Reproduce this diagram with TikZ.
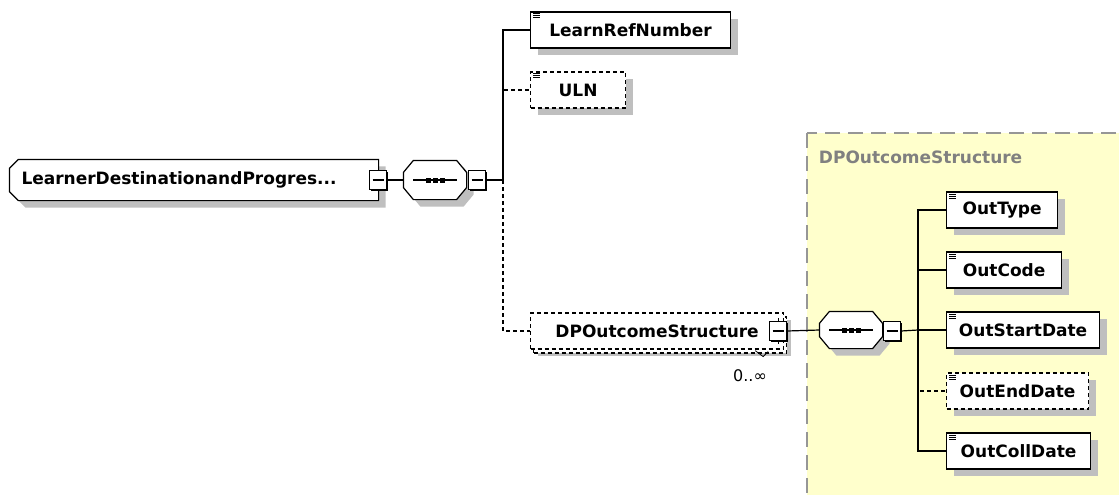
\documentclass[tikz,border=0pt]{standalone}
\usepackage{fontspec}
\setmainfont{DejaVu Sans}
\usetikzlibrary{shadows,positioning}
\definecolor{groupfill}{RGB}{255,255,204}
\definecolor{groupline}{RGB}{150,150,150}
\definecolor{grouptext}{RGB}{128,128,128}
\tikzset{
    boxfont/.style={font=\fontsize{17}{20}\selectfont\bfseries},
    grayshadow/.style={drop shadow={shadow xshift=7pt, shadow yshift=-7pt, fill=black!25, opacity=1}},
    elem/.style={draw, fill=white, anchor=west, minimum height=36, inner sep=0pt, boxfont, grayshadow},
    optional/.style={dash pattern=on 4pt off 3pt},
    toggle/.style={draw, fill=white, minimum width=17, minimum height=19, inner sep=0pt,
        drop shadow={shadow xshift=1.5pt, shadow yshift=-1.5pt, fill=black, opacity=1},
        path picture={\draw ([xshift=3pt]path picture bounding box.west) -- ([xshift=-3pt]path picture bounding box.east);}},
    seqbox/.style={minimum width=62, minimum height=38, inner sep=0pt},
    groupbox/.style={fill=groupfill, draw=groupline, dash pattern=on 15pt off 8pt}
}
\begin{document}
\begin{tikzpicture}[x=1pt, y=-1pt, line width=1.2pt]
        \useasboundingbox (0,0) rectangle (1119,495);
        % DPOutcomeStructure group
        \draw[groupbox] (807,133) rectangle (1130,505);
        \node[anchor=west, boxfont, text=grouptext] (grp) at (815,157) {DPOutcomeStructure};
        % root element and its sequence
        \node[minimum width=368, minimum height=40, inner sep=0pt] (root) at (194,180) {};
        \draw[fill=white, grayshadow] ([xshift=9pt]root.north west) -- (root.north east) -- (root.south east)
            -- ([xshift=9pt]root.south west) -- ([yshift=9pt]root.south west) -- ([yshift=-9pt]root.north west) -- cycle;
        \node[boxfont, text width=345pt, align=left] (rootname) at (root) {LearnerDestinationandProgres...};
        \node[toggle] (t1) at (378,180) {};
        \node[seqbox] (seq1) at (435,180) {};
        \node[seqbox, minimum height=36] (seq2) at (851,330) {};
        \foreach \s in {seq1,seq2} {
            \draw[fill=white, grayshadow] ([xshift=10pt]\s.north west) -- ([xshift=-10pt]\s.north east)
                -- ([yshift=-12pt]\s.north east) -- ([yshift=12pt]\s.south east) -- ([xshift=-10pt]\s.south east)
                -- ([xshift=10pt]\s.south west) -- ([yshift=12pt]\s.south west) -- ([yshift=-12pt]\s.north west) -- cycle;
            \draw ([xshift=-22pt]\s.center) -- ([xshift=22pt]\s.center);
            \foreach \d in {-7,0,7}
                \fill ([xshift=\d pt]\s.center) ++(-2.5pt,-2.5pt) rectangle ++(5pt,5pt);
        }
        \node[toggle] (t2) at (477,180) {};
        \draw (t1.east) -- (seq1.west);
        % children
        \node[elem, minimum width=200] (lrn) at (530,30) {LearnRefNumber};
        \node[elem, optional, minimum width=95] (uln) at (530,90) {ULN};
        \node[elem, optional, minimum width=253, copy shadow={shadow xshift=3pt, shadow yshift=-4pt}] (dp) at (530,331) {DPOutcomeStructure};
        \node[font=\fontsize{16}{18}\selectfont] (occ) at (750,376) {0..∞};
        \draw[line width=0.8pt] ([xshift=-29pt,yshift=-1pt]dp.south east) -- ++(8pt,-6pt) -- ++(5pt,5pt);
        \coordinate (s1) at (503,180);
        \draw (t2.east) -- (s1);
        \draw (s1) |- (lrn.west);
        \draw[optional] (s1) |- (uln.west);
        \draw[optional] (s1) |- (dp.west);
        % DPOutcomeStructure content
        \node[toggle] (t3) at (778,331) {};
        \draw[line width=0.8pt] (t3.north) -- ++(0,3pt) (t3.south) -- ++(0,-3pt);
        \node[toggle] (t4) at (892,331) {};
        \draw (t3.east) -- (seq2.west);
        \coordinate (s2) at (918,330);
        \draw (t4.east) -- (s2);
        \foreach \n/\t/\y/\w in {otype/OutType/210/111, ocode/OutCode/270/115,
            ostart/OutStartDate/330/153, ocoll/OutCollDate/451/144} {
            \node[elem, minimum width=\w] (\n) at (946,\y) {\t};
            \draw (s2) |- (\n.west);
        }
        \node[elem, optional, minimum width=142] (oend) at (946,391) {OutEndDate};
        \draw[optional] (s2) |- (oend.west);
        % simple content marks
        \foreach \n in {lrn,uln,otype,ocode,ostart,oend,ocoll}
            \foreach \k in {0,1,2}
                \draw[line width=0.8pt] ([xshift=3pt,yshift=-2.5pt-2*\k pt]\n.north west) -- ++(7pt,0);
    \end{tikzpicture}
\end{document}
